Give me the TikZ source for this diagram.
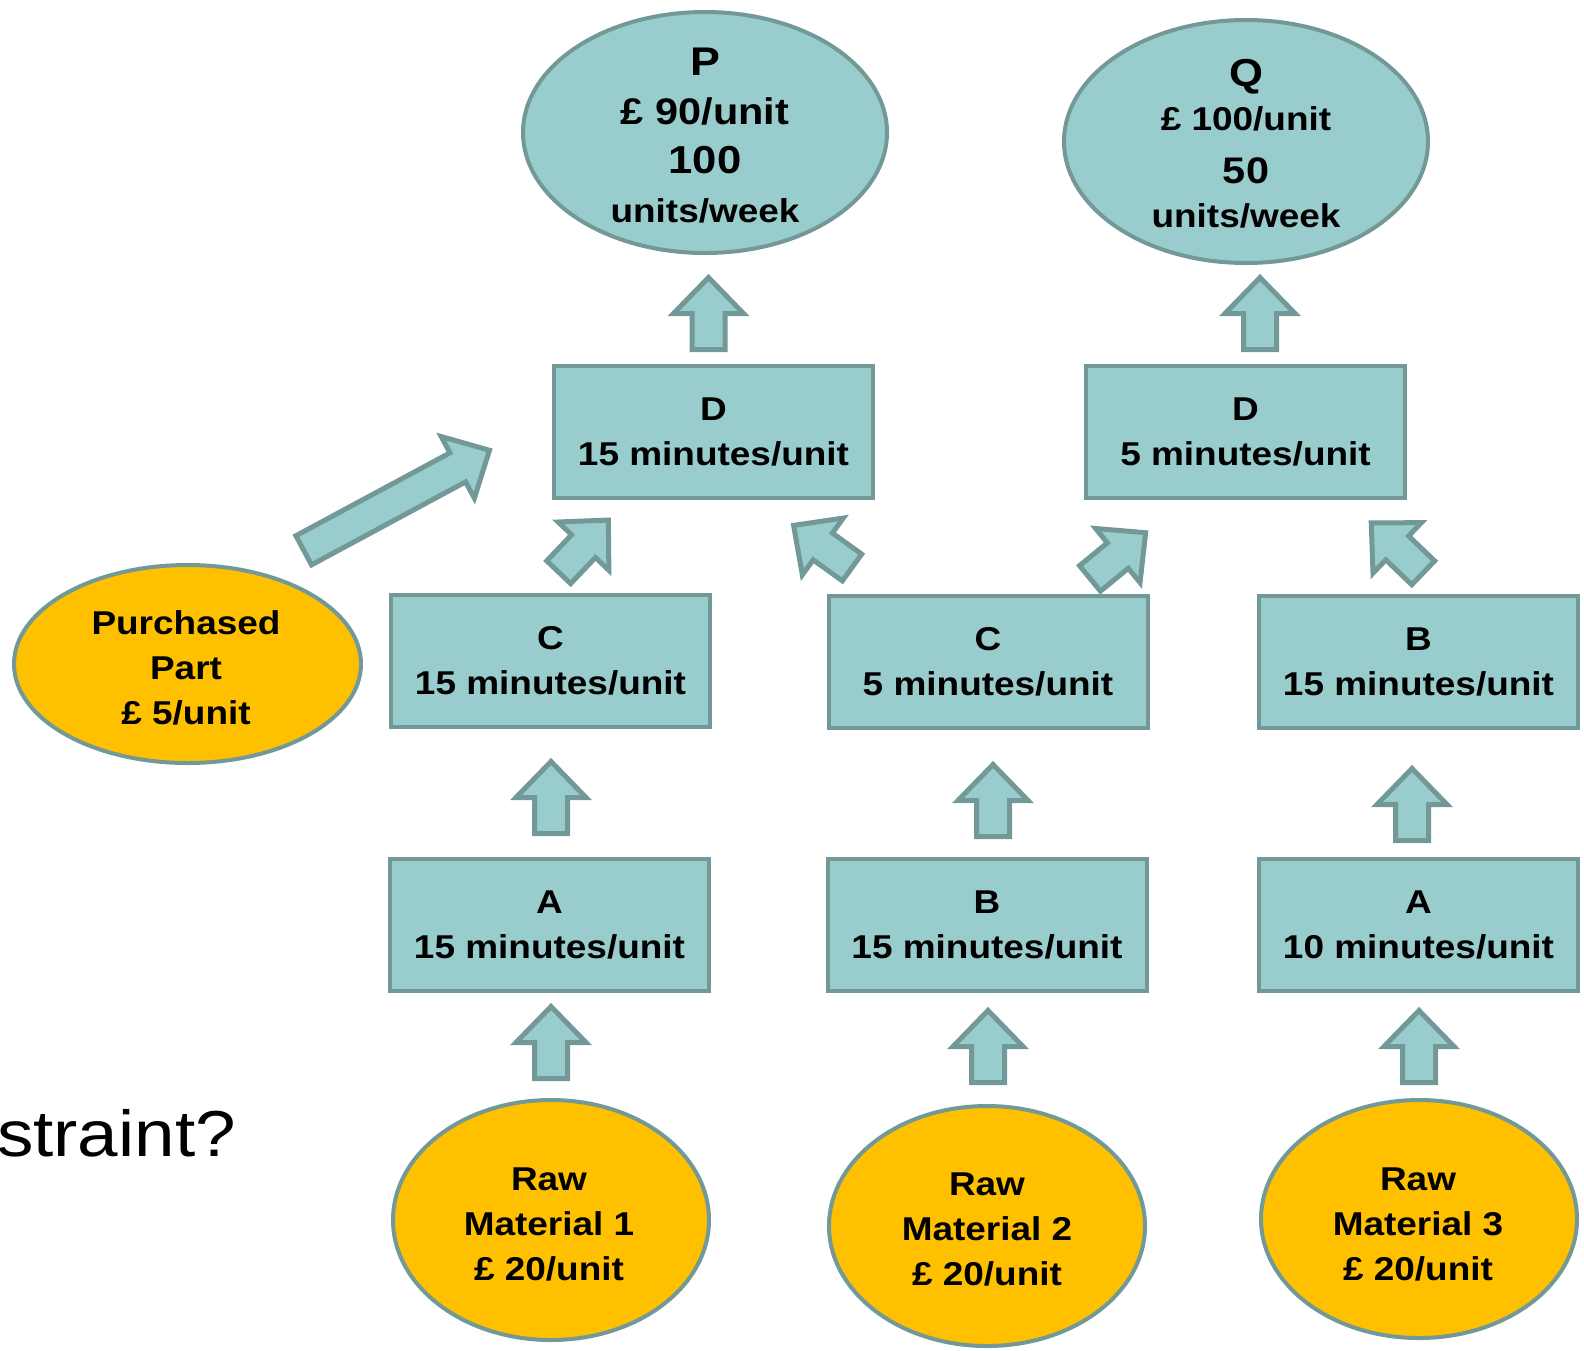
\documentclass[tikz,border=0pt]{standalone}
\usepackage{fontspec}
\setmainfont{Liberation Sans}[FakeStretch=1.12]
\usetikzlibrary{shapes.geometric}
\definecolor{tfill}{RGB}{153,204,204}
\definecolor{tline}{RGB}{114,153,152}
\definecolor{ofill}{RGB}{255,192,0}
\newcommand\fsz[2]{\fontsize{#1}{#2}\selectfont}
\begin{document}
\begin{tikzpicture}[x=1pt,y=-1pt,
  stepbox/.style={draw=tline, fill=tfill, line width=4pt, minimum width=319pt, minimum height=132pt, inner sep=0pt, align=center, font=\bfseries\fsz{33}{45}},
  ovalshape/.style={ellipse, draw=tline, line width=4pt, inner sep=0pt},
  ovaltext/.style={align=center, font=\bfseries\fsz{33}{45}, inner sep=0pt},
  arrowsty/.style={draw=tline, fill=tfill, line width=5pt, line join=miter},
  pics/barrow/.style={code={\draw[arrowsty] (-16.5,0) -- (16.5,0) -- (16.5,{36-#1}) -- (35,{36-#1}) -- (0,{-#1}) -- (-35,{36-#1}) -- (-16.5,{36-#1}) -- cycle;}}
]
\useasboundingbox (0,0) rectangle (1584,1350);

% top products
\node[ovalshape, fill=tfill, minimum width=364pt, minimum height=241pt] (P) at (705,132.5) {};
\node[ovaltext, font=\bfseries\fsz{33}{49}] (Pt) at (705,136)
  {{\fsz{40}{49}P}\\{\fsz{37}{49}£ 90/unit}\\{\fsz{39}{49}100}\\units/week};
\node[ovalshape, fill=tfill, minimum width=364pt, minimum height=243pt] (Q) at (1246,141.5) {};
\node[ovaltext, font=\bfseries\fsz{33}{44}] (Qt) at (1246,144)
  {{\fsz{39}{44}Q}\\{\fsz{33}{44}£ 100/unit}\\[9pt]{\fsz{37}{44}50}\\units/week};

% boxes
\node[stepbox] (D1) at (713.5,432) {D\\15 minutes/unit};
\node[stepbox] (D2) at (1245.5,432) {D\\5 minutes/unit};
\node[stepbox] (C1) at (550.5,661) {C\\15 minutes/unit};
\node[stepbox] (C2) at (988,662) {C\\5 minutes/unit};
\node[stepbox] (B1) at (1418.5,661.5) {B\\15 minutes/unit};
\node[stepbox] (A1) at (549.5,925) {A\\15 minutes/unit};
\node[stepbox] (B2) at (987,925) {B\\15 minutes/unit};
\node[stepbox] (A2) at (1418.5,925) {A\\10 minutes/unit};

% raw materials and purchased part
\node[ovalshape, fill=ofill, minimum width=347pt, minimum height=198pt] (PP) at (187.5,664) {};
\node[ovaltext] (PPt) at (186,667.5) {Purchased\\Part\\£ 5/unit};
\node[ovalshape, fill=ofill, minimum width=316pt, minimum height=240pt] (RM1) at (551,1220) {};
\node[ovaltext] (RM1t) at (549,1224.5) {Raw\\Material 1\\£ 20/unit};
\node[ovalshape, fill=ofill, minimum width=316pt, minimum height=240pt] (RM2) at (987,1226) {};
\node[ovaltext] (RM2t) at (987,1229.5) {Raw\\Material 2\\£ 20/unit};
\node[ovalshape, fill=ofill, minimum width=316pt, minimum height=238pt] (RM3) at (1419,1219) {};
\node[ovaltext] (RM3t) at (1418,1224.5) {Raw\\Material 3\\£ 20/unit};

% block arrows
\pic at (708.5,349.5) {barrow=72};
\pic at (1260,349.5) {barrow=72};
\pic at (551,833.5) {barrow=72};
\pic at (993,836.5) {barrow=72};
\pic at (1412,840.5) {barrow=72};
\pic at (551,1078.5) {barrow=72};
\pic at (988,1082.5) {barrow=72};
\pic at (1419,1082.5) {barrow=72};
\pic[rotate=-43.6] at (558.7,572.2) {barrow=72};
\pic[rotate=54.2] at (852,567.5) {barrow=72};
\pic[rotate=-50.6] at (1090,578.4) {barrow=72};
\pic[rotate=46.2] at (1423.2,572.8) {barrow=72};
\pic[rotate=-61.7] at (303.7,550.3) {barrow=211};

% partial slide text
\node[anchor=base east, inner sep=0pt, font=\fsz{65}{70}] (cut) at (236,1156) {straint?};
\end{tikzpicture}
\end{document}
